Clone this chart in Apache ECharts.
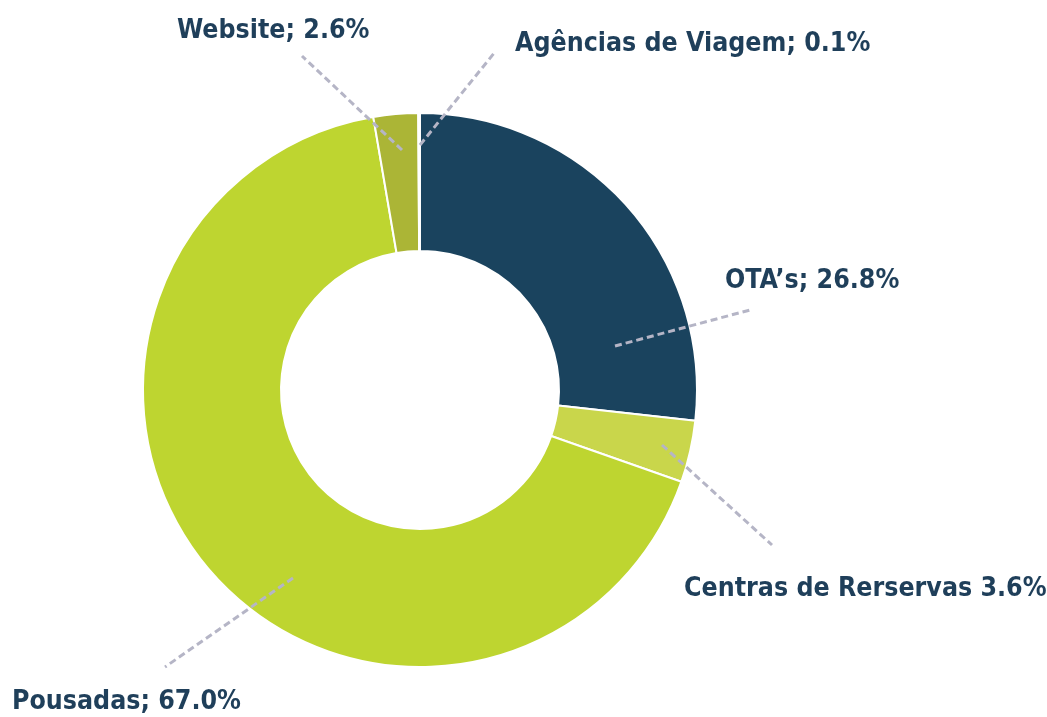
<!DOCTYPE html>
<html>
<head>
<meta charset="utf-8">
<script src="https://cdn.jsdelivr.net/npm/echarts@6/dist/echarts.min.js"></script>
<style>
html,body{margin:0;padding:0;background:#fff;}
#c{width:1047px;height:717px;}
</style>
</head>
<body>
<div id="c"></div>
<script>
const categories = ["OTA’s", "Centras de Rerservas", "Pousadas", "Website", "Agências de Viagem"];
const values = [26.8, 3.6, 67.0, 2.6, 0.1];
const labelTexts = ["OTA’s; 26.8%", "Centras de Rerservas 3.6%", "Pousadas; 67.0%", "Website; 2.6%", "Agências de Viagem; 0.1%"];
const colors = ["#1a435e", "#c9d64b", "#bed530", "#abb536", "#abb536"];

// label placement (pixels): text anchor and leader line [from slice, to label]
const labelPlace = [
  {x: 725, y: 281, line: [[615, 346], [750, 310]]},
  {x: 684, y: 589, line: [[662, 445], [772, 545]]},
  {x: 12,  y: 702, line: [[293, 578], [165, 667]]},
  {x: 177, y: 31,  line: [[402, 150], [302, 56]]},
  {x: 515, y: 44,  line: [[420, 145], [495, 52]]}
];

const pieBase = {
  type: 'pie',
  center: [420, 390],
  radius: [139, 277],
  startAngle: 90,
  clockwise: true,
  avoidLabelOverlap: false,
  silent: true
};

const chart = echarts.init(document.getElementById('c'));
chart.setOption({
  animation: false,
  series: [
    Object.assign({}, pieBase, {
      z: 2,
      data: categories.map((c, i) => ({name: c, value: values[i], itemStyle: {color: colors[i]}})),
      itemStyle: {borderColor: '#fff', borderWidth: 2},
      label: {show: false},
      labelLine: {show: false}
    }),
    Object.assign({}, pieBase, {
      z: 5,
      data: categories.map((c, i) => ({name: c, value: values[i]})),
      itemStyle: {color: 'rgba(0,0,0,0)', borderWidth: 0},
      label: {
        show: true,
        formatter: p => labelTexts[p.dataIndex],
        color: '#1f3f5a',
        fontFamily: '"DejaVu Sans Condensed", sans-serif',
        fontWeight: 'bold',
        fontSize: 26.5
      },
      labelLine: {
        show: true,
        lineStyle: {color: '#b5b5c6', width: 3, type: [7, 4]}
      },
      labelLayout: p => {
        const L = labelPlace[p.dataIndex];
        return {
          x: L.x, y: L.y, align: 'left', verticalAlign: 'middle',
          labelLinePoints: [L.line[0], L.line[1], L.line[1]]
        };
      }
    })
  ]
});
</script>
</body>
</html>
